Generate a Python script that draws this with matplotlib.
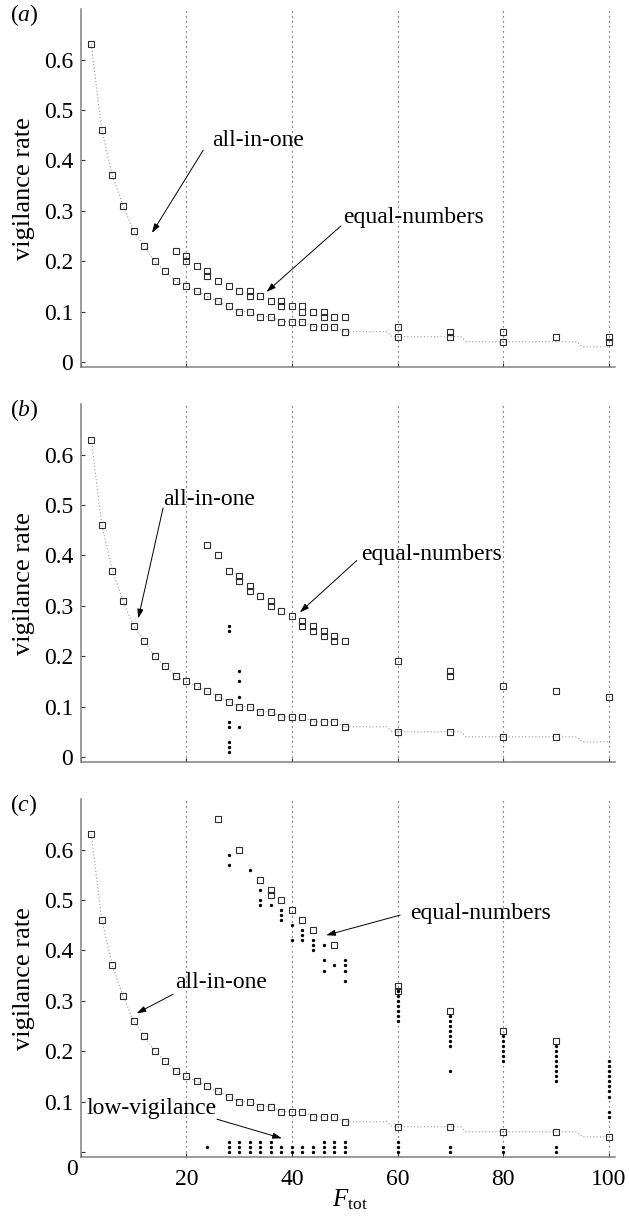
import matplotlib.pyplot as plt

plt.rcParams['font.family'] = ['Liberation Serif', 'DejaVu Serif']
plt.rcParams['mathtext.fontset'] = 'custom'
plt.rcParams['mathtext.rm'] = 'Liberation Serif'
plt.rcParams['mathtext.it'] = 'Liberation Serif:italic'

# all-in-one optimum at the sampled F values
F_even = [2, 4, 6, 8, 10, 12, 14, 16, 18, 20, 22, 24, 26, 28, 30, 32, 34, 36, 38, 40, 42, 44, 46, 48, 50]
aio_even = [0.63, 0.46, 0.37, 0.31, 0.26, 0.23, 0.20, 0.18, 0.16, 0.15, 0.14, 0.13, 0.12, 0.11, 0.10,
            0.10, 0.09, 0.09, 0.08, 0.08, 0.08, 0.07, 0.07, 0.07, 0.06]
F_big = [60, 70, 80, 90, 100]
aio_big = [0.05, 0.05, 0.04, 0.04, 0.03]

# dotted all-in-one curve (steps between the large F values)
curve_F = F_even + [58, 59, 60, 70, 72, 73, 80, 90, 94, 95, 100]
curve_v = aio_even + [0.06, 0.05, 0.05, 0.05, 0.05, 0.04, 0.04, 0.04, 0.04, 0.03, 0.03]

# panel (a): equal-numbers optima
eq_a_F = [18, 20, 20, 22, 24, 24, 26, 28, 30, 32, 32, 34, 36, 38, 38, 40, 42, 42, 44, 46, 46, 48, 50,
          60, 70, 80, 90, 100, 100]
eq_a_v = [0.22, 0.21, 0.20, 0.19, 0.18, 0.17, 0.16, 0.15, 0.14, 0.14, 0.13, 0.13, 0.12, 0.12, 0.11,
          0.11, 0.11, 0.10, 0.10, 0.10, 0.09, 0.09, 0.09, 0.07, 0.06, 0.06, 0.05, 0.05, 0.04]
aio_a_F = F_even + [60, 70, 80]
aio_a_v = aio_even + [0.05, 0.05, 0.04]

# panel (b)
eq_b_F = [24, 26, 28, 30, 30, 32, 32, 34, 36, 36, 38, 40, 42, 42, 44, 44, 46, 46, 48, 48, 50,
          60, 70, 70, 80, 90, 100]
eq_b_v = [0.42, 0.40, 0.37, 0.36, 0.35, 0.34, 0.33, 0.32, 0.31, 0.30, 0.29, 0.28, 0.27, 0.26, 0.26,
          0.25, 0.25, 0.24, 0.24, 0.23, 0.23, 0.19, 0.17, 0.16, 0.14, 0.13, 0.12]
dot_b_F = [28, 28, 28, 28, 28, 28, 28, 30, 30, 30, 30]
dot_b_v = [0.26, 0.25, 0.07, 0.06, 0.03, 0.02, 0.01, 0.17, 0.15, 0.12, 0.06]
aio_b_F = F_even + [60, 70, 80, 90]
aio_b_v = aio_even + [0.05, 0.05, 0.04, 0.04]

# panel (c)
eq_c_F = [26, 30, 34, 36, 36, 38, 40, 42, 44, 48, 60, 60, 70, 80, 90]
eq_c_v = [0.66, 0.60, 0.54, 0.52, 0.51, 0.50, 0.48, 0.46, 0.44, 0.41, 0.33, 0.32, 0.28, 0.24, 0.22]
dot_c_F = [28, 28, 32, 34, 34, 34, 36, 38, 38, 38, 40, 40, 42, 42, 42, 44, 44, 44, 46, 46, 46, 48,
           50, 50, 50, 50,
           60, 60, 60, 60, 60, 60, 60,
           70, 70, 70, 70, 70, 70, 70, 70,
           80, 80, 80, 80, 80, 80,
           90, 90, 90, 90, 90, 90, 90, 90,
           100, 100, 100, 100, 100, 100, 100, 100, 100, 100]
dot_c_v = [0.59, 0.57, 0.56, 0.52, 0.50, 0.49, 0.49, 0.48, 0.47, 0.46, 0.45, 0.42, 0.44, 0.43, 0.42,
           0.42, 0.41, 0.40, 0.41, 0.38, 0.36, 0.37,
           0.38, 0.37, 0.36, 0.34,
           0.32, 0.31, 0.30, 0.29, 0.28, 0.27, 0.26,
           0.27, 0.26, 0.25, 0.24, 0.23, 0.22, 0.21, 0.16,
           0.23, 0.22, 0.21, 0.20, 0.19, 0.18,
           0.21, 0.20, 0.19, 0.18, 0.17, 0.16, 0.15, 0.14,
           0.18, 0.17, 0.16, 0.15, 0.14, 0.13, 0.12, 0.11, 0.08, 0.07]
low_c_F = [24, 28, 28, 28, 30, 30, 30, 32, 32, 32, 34, 34, 34, 36, 36, 36, 38, 38, 40, 40, 42, 42,
           44, 44, 46, 46, 46, 48, 48, 48, 50, 50, 50, 60, 60, 60, 70, 70, 80, 80, 90, 90]
low_c_v = [0.01, 0.02, 0.01, 0.00, 0.02, 0.01, 0.00, 0.02, 0.01, 0.00, 0.02, 0.01, 0.00, 0.02, 0.01,
           0.00, 0.01, 0.00, 0.01, 0.00, 0.01, 0.00, 0.01, 0.00, 0.02, 0.01, 0.00, 0.02, 0.01, 0.00,
           0.02, 0.01, 0.00, 0.02, 0.01, 0.00, 0.01, 0.00, 0.01, 0.00, 0.01, 0.00]
aio_c_F = F_even + F_big
aio_c_v = aio_even + aio_big

fig = plt.figure(figsize=(6.29, 12.22), dpi=100)
left, width, height = 0.1283, 0.8495, 0.2928
bottoms = [0.6997, 0.3764, 0.0532]

sq = dict(ls='none', marker='s', ms=4.8, mfc='none', mec='#2e2e2e', mew=0.8, zorder=3)
dot = dict(ls='none', marker='o', ms=2.4, color='k', mew=0, zorder=4)
arr = dict(arrowstyle='-|>,head_length=0.55,head_width=0.18', color='k', lw=0.7,
           shrinkA=0, shrinkB=0)
fs = 17


def setup(ax, label, show_x):
    ax.set_xlim(0, 101.2)
    ax.set_ylim(-0.01, 0.70)
    for s in ['top', 'right']:
        ax.spines[s].set_visible(False)
    for s in ['left', 'bottom']:
        ax.spines[s].set_color('#808080')
        ax.spines[s].set_linewidth(1.1)
    for xv in [20, 40, 60, 80, 100]:
        ax.axvline(xv, color='#333333', lw=0.8, ls=(0, (1, 3.5)), zorder=0)
    ax.tick_params(direction='in', length=3, width=0.8, color='#333333', labelsize=fs)
    ax.tick_params(axis='y', pad=5.5)
    ax.tick_params(axis='x', pad=9)
    ax.set_xticks([0, 20, 40, 60, 80, 100])
    ax.set_yticks([0, 0.1, 0.2, 0.3, 0.4, 0.5, 0.6])
    if show_x:
        ax.set_xticklabels(['', '20', '40', '60', '80', '100'])
        ax.set_yticklabels(['', '0.1', '0.2', '0.3', '0.4', '0.5', '0.6'])
        ax.text(-0.016, -0.036, '0', transform=ax.transAxes, fontsize=fs, ha='center', va='center')
    else:
        ax.set_xticklabels([])
        ax.set_yticklabels(['0', '0.1', '0.2', '0.3', '0.4', '0.5', '0.6'])
    ax.set_ylabel('vigilance rate', fontsize=19)
    ax.yaxis.set_label_coords(-0.086, 0.5)
    ax.text(-0.106, 0.983, label, transform=ax.transAxes, fontsize=fs, ha='center', va='center')
    ax.plot(curve_F, curve_v, color='#999999', lw=0.8, ls=(0, (1, 2)), zorder=2)


axes = [fig.add_axes([left, b, width, height]) for b in bottoms]

# (a)
ax = axes[0]
setup(ax, '$(a)$', False)
ax.plot(aio_a_F, aio_a_v, **sq)
ax.plot(eq_a_F, eq_a_v, **sq)
ax.text(24.9, 0.44, 'all-in-one', fontsize=fs, ha='left', va='center')
ax.annotate('', xy=(13.5, 0.256), xytext=(23.2, 0.42), arrowprops=arr)
ax.text(49.7, 0.287, 'equal-numbers', fontsize=fs, ha='left', va='center')
ax.annotate('', xy=(35.2, 0.139), xytext=(49.3, 0.27), arrowprops=arr)

# (b)
ax = axes[1]
setup(ax, '$(b)$', False)
ax.plot(aio_b_F, aio_b_v, **sq)
ax.plot(eq_b_F, eq_b_v, **sq)
ax.plot(dot_b_F, dot_b_v, **dot)
ax.text(15.6, 0.51, 'all-in-one', fontsize=fs, ha='left', va='center')
ax.annotate('', xy=(10.9, 0.275), xytext=(15.6, 0.494), arrowprops=arr)
ax.text(53.2, 0.402, 'equal-numbers', fontsize=fs, ha='left', va='center')
ax.annotate('', xy=(41.5, 0.287), xytext=(52.3, 0.39), arrowprops=arr)

# (c)
ax = axes[2]
setup(ax, '$(c)$', True)
ax.plot(aio_c_F, aio_c_v, **sq)
ax.plot(eq_c_F, eq_c_v, **sq)
ax.plot(dot_c_F, dot_c_v, **dot)
ax.plot(low_c_F, low_c_v, **dot)
ax.text(17.9, 0.336, 'all-in-one', fontsize=fs, ha='left', va='center')
ax.annotate('', xy=(10.6, 0.275), xytext=(17.5, 0.313), arrowprops=arr)
ax.text(62.4, 0.474, 'equal-numbers', fontsize=fs, ha='left', va='center')
ax.annotate('', xy=(46.5, 0.43), xytext=(60.5, 0.47), arrowprops=arr)
ax.text(1.0, 0.087, 'low-vigilance', fontsize=fs, ha='left', va='center')
ax.annotate('', xy=(38.1, 0.027), xytext=(25.8, 0.065), arrowprops=arr)

fig.text(0.556, 0.018, r'$F_{\rm tot}$', fontsize=18, ha='center', va='center')

fig.savefig('out.png', dpi=100)
